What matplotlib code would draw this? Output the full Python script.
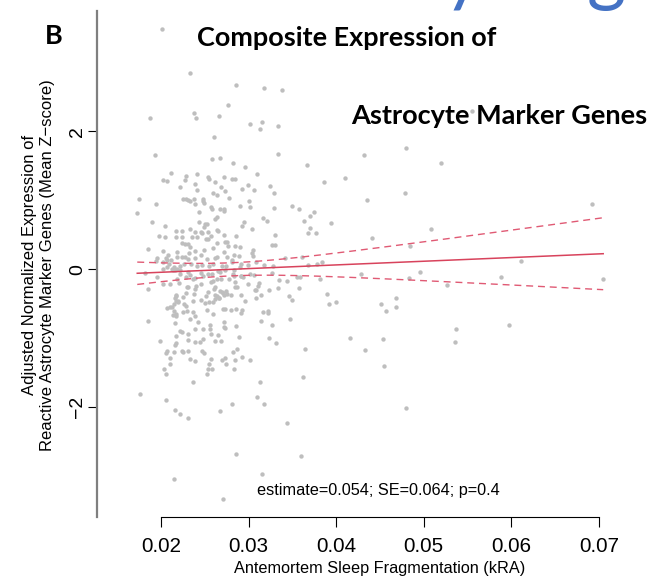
import numpy as np
import matplotlib
matplotlib.use("Agg")
import matplotlib.pyplot as plt

# Antemortem sleep fragmentation (kRA) for each subject
sleep_frag_kra = [
    0.02609, 0.01935, 0.03339, 0.02582, 0.02677, 0.02822, 0.02959, 0.02110,
    0.02285, 0.02411, 0.02533, 0.02552, 0.02719, 0.02810, 0.02845, 0.03092,
    0.02027, 0.02072, 0.02274, 0.02388, 0.02613, 0.02213, 0.02415, 0.02685,
    0.02734, 0.02928, 0.02989, 0.03058, 0.03244, 0.02597, 0.02643, 0.02776,
    0.03286, 0.01749, 0.02247, 0.02282, 0.02304, 0.02327, 0.02381, 0.02476,
    0.02483, 0.02491, 0.02392, 0.02902, 0.03008, 0.03016, 0.01943, 0.02567,
    0.02582, 0.02673, 0.02719, 0.02719, 0.03294, 0.03499, 0.03575, 0.01730,
    0.02434, 0.02613, 0.02635, 0.03168, 0.03210, 0.01897, 0.02529, 0.02506,
    0.02438, 0.02491, 0.02944, 0.02925, 0.03035, 0.02042, 0.02175, 0.02240,
    0.02331, 0.02384, 0.02460, 0.02537, 0.02635, 0.02647, 0.01981, 0.02046,
    0.02171, 0.02240, 0.02354, 0.02415, 0.02472, 0.02514, 0.02533, 0.02571,
    0.02723, 0.02852, 0.03305, 0.02244, 0.02278, 0.02308, 0.02331, 0.02643,
    0.02734, 0.02753, 0.02765, 0.02845, 0.02902, 0.03271, 0.03298, 0.01855,
    0.02027, 0.02076, 0.02057, 0.02179, 0.02392, 0.02495, 0.02597, 0.02723,
    0.03050, 0.03043, 0.01954, 0.01947, 0.02072, 0.02114, 0.02186, 0.02236,
    0.02278, 0.02312, 0.02323, 0.02384, 0.02460, 0.02521, 0.02613, 0.02635,
    0.02750, 0.02810, 0.02829, 0.02887, 0.03050, 0.03088, 0.03176, 0.03419,
    0.02027, 0.02095, 0.02152, 0.02179, 0.02217, 0.02263, 0.02342, 0.02415,
    0.02468, 0.02548, 0.02597, 0.02693, 0.02738, 0.02807, 0.02833, 0.02902,
    0.02917, 0.02997, 0.03282, 0.01821, 0.02019, 0.02072, 0.02122, 0.02137,
    0.02160, 0.02217, 0.02221, 0.02304, 0.02335, 0.02392, 0.02453, 0.02476,
    0.02540, 0.02578, 0.02647, 0.02670, 0.02734, 0.02826, 0.02837, 0.02909,
    0.03016, 0.03065, 0.03271, 0.03552, 0.03583, 0.01951, 0.02186, 0.02289,
    0.02361, 0.02453, 0.02567, 0.02594, 0.02639, 0.02689, 0.02776, 0.02845,
    0.02917, 0.02936, 0.02993, 0.03115, 0.03347, 0.03442, 0.01855, 0.02019,
    0.02103, 0.02209, 0.02293, 0.02312, 0.02384, 0.02400, 0.02533, 0.02601,
    0.02613, 0.02670, 0.02693, 0.02738, 0.02719, 0.02849, 0.02868, 0.03069,
    0.03088, 0.03103, 0.03237, 0.03339, 0.03575, 0.02167, 0.02175, 0.02255,
    0.02285, 0.02373, 0.02514, 0.02616, 0.02643, 0.02666, 0.02712, 0.02750,
    0.02799, 0.02913, 0.02963, 0.03145, 0.03465, 0.03499, 0.02171, 0.02190,
    0.02198, 0.02152, 0.02164, 0.02065, 0.02107, 0.02129, 0.02259, 0.02285,
    0.02369, 0.02460, 0.02502, 0.02552, 0.02597, 0.02620, 0.02662, 0.03088,
    0.02148, 0.02167, 0.02255, 0.02293, 0.02331, 0.02369, 0.02384, 0.02529,
    0.02597, 0.02708, 0.02734, 0.02799, 0.02852, 0.02909, 0.02928, 0.03164,
    0.03218, 0.03225, 0.03145, 0.02133, 0.02171, 0.01848, 0.02164, 0.02422,
    0.02559, 0.02719, 0.02727, 0.02856, 0.03263, 0.03476, 0.02217, 0.02236,
    0.02171, 0.02304, 0.02388, 0.02483, 0.02556, 0.02567, 0.02651, 0.02723,
    0.02887, 0.03237, 0.03317, 0.01989, 0.02171, 0.02160, 0.02304, 0.02384,
    0.02449, 0.02479, 0.02620, 0.02681, 0.02868, 0.02061, 0.02072, 0.02152,
    0.02244, 0.02255, 0.02304, 0.02335, 0.02388, 0.02468, 0.02491, 0.02571,
    0.02693, 0.02731, 0.02738, 0.02826, 0.02841, 0.02921, 0.03016, 0.02103,
    0.02034, 0.02057, 0.02107, 0.02544, 0.02537, 0.02586, 0.02521, 0.02833,
    0.01764, 0.02365, 0.03126, 0.02057, 0.03100, 0.02810, 0.03172, 0.02156,
    0.02213, 0.02308, 0.02670, 0.03434,
    0.04800, 0.04321, 0.05192, 0.03663, 0.04100, 0.03864, 0.04789, 0.04351,
    0.06916, 0.03746, 0.03701, 0.03629, 0.03937, 0.03697, 0.05086, 0.03674,
    0.03773, 0.04412, 0.04839, 0.03606, 0.03842, 0.06106, 0.03777, 0.03682,
    0.04960, 0.04279, 0.05885, 0.04835, 0.07049, 0.03819, 0.05265, 0.03895,
    0.04683, 0.03998, 0.03918, 0.04515, 0.04679, 0.04568, 0.05976, 0.05371,
    0.04154, 0.04538, 0.05356, 0.03644, 0.04325, 0.04542, 0.03621, 0.04793,
    0.02011, 0.02335, 0.01878, 0.02377, 0.02396, 0.02666,
    0.02856, 0.03180, 0.03381, 0.02769, 0.03016, 0.03149, 0.03134, 0.03336,
    0.02152, 0.02860, 0.03594, 0.03149, 0.02704, 0.05548,
]

# Adjusted composite expression of reactive astrocyte marker genes (mean z-score)
astro_z = [
    1.913, 1.657, 1.671, 1.604, 1.618, 1.536, 1.488, 1.396,
    1.357, 1.382, 1.338, 1.314, 1.343, 1.314, 1.309, 1.386,
    1.295, 1.280, 1.300, 1.232, 1.271, 1.193, 1.155, 1.188,
    1.130, 1.159, 1.222, 1.145, 1.213, 1.106, 1.077, 1.039,
    1.106, 1.014, 1.019, 1.019, 1.005, 0.995, 1.019, 1.024,
    0.990, 0.957, 0.942, 0.918, 0.995, 0.903, 0.952, 0.903,
    0.874, 0.879, 0.870, 0.845, 0.889, 0.923, 0.879, 0.812,
    0.831, 0.729, 0.754, 0.739, 0.696, 0.691, 0.657, 0.652,
    0.681, 0.609, 0.691, 0.633, 0.585, 0.628, 0.560, 0.556,
    0.585, 0.546, 0.536, 0.546, 0.575, 0.551, 0.483, 0.464,
    0.464, 0.473, 0.469, 0.464, 0.522, 0.444, 0.444, 0.483,
    0.493, 0.483, 0.493, 0.377, 0.367, 0.362, 0.319, 0.382,
    0.391, 0.396, 0.343, 0.343, 0.329, 0.353, 0.357, 0.300,
    0.266, 0.208, 0.169, 0.251, 0.271, 0.280, 0.304, 0.246,
    0.275, 0.242, 0.159, 0.126, 0.135, 0.135, 0.184, 0.184,
    0.174, 0.155, 0.232, 0.169, 0.203, 0.145, 0.164, 0.174,
    0.174, 0.135, 0.203, 0.188, 0.193, 0.111, 0.058, 0.159,
    0.101, 0.077, 0.029, 0.000, 0.053, 0.077, 0.072, 0.048,
    0.063, 0.043, 0.072, 0.048, 0.053, 0.101, -0.010, 0.039,
    0.077, 0.068, 0.053, -0.058, 0.005, 0.029, 0.000, -0.010,
    -0.010, -0.063, -0.010, -0.034, -0.077, -0.130, -0.058, -0.092,
    -0.063, -0.072, -0.019, -0.043, -0.014, -0.068, -0.097, -0.097,
    -0.072, -0.087, -0.048, -0.106, -0.111, -0.106, -0.135, -0.116,
    -0.140, -0.208, -0.184, -0.169, -0.135, -0.145, -0.135, -0.188,
    -0.101, -0.111, -0.208, -0.198, -0.159, -0.174, -0.290, -0.217,
    -0.213, -0.198, -0.256, -0.261, -0.290, -0.237, -0.324, -0.280,
    -0.251, -0.309, -0.333, -0.319, -0.367, -0.261, -0.256, -0.295,
    -0.304, -0.237, -0.300, -0.275, -0.266, -0.372, -0.382, -0.396,
    -0.338, -0.362, -0.382, -0.372, -0.391, -0.420, -0.348, -0.362,
    -0.367, -0.372, -0.454, -0.367, -0.386, -0.444, -0.454, -0.459,
    -0.478, -0.507, -0.420, -0.556, -0.551, -0.541, -0.507, -0.531,
    -0.454, -0.449, -0.493, -0.478, -0.473, -0.425, -0.420, -0.415,
    -0.604, -0.647, -0.618, -0.599, -0.715, -0.614, -0.681, -0.589,
    -0.643, -0.570, -0.570, -0.594, -0.580, -0.638, -0.585, -0.614,
    -0.599, -0.638, -0.749, -0.662, -0.671, -0.749, -0.778, -0.768,
    -0.807, -0.758, -0.845, -0.816, -0.802, -0.720, -0.894, -0.908,
    -0.961, -0.937, -0.865, -0.865, -0.870, -0.937, -0.952, -0.841,
    -0.981, -0.995, -1.068, -1.043, -1.063, -1.097, -1.019, -1.053,
    -1.053, -1.010, -1.043, -1.043, -1.159, -1.208, -1.179, -1.198,
    -1.188, -1.203, -1.188, -1.300, -1.329, -1.188, -1.208, -1.304,
    -1.309, -1.280, -1.372, -1.203, -1.319, -1.275, -1.314, -1.290,
    -1.449, -1.522, -1.377, -1.372, -1.444, -1.449, -1.522, -1.449,
    -1.812, -1.638, -1.628, -1.889, -1.855, -1.957, -1.952, -2.039,
    -2.097, -2.155, -2.053, -2.222,
    1.754, 1.662, 1.546, 1.517, 1.324, 1.271, 1.106, 1.010,
    0.952, 0.831, 0.768, 0.705, 0.671, 0.604, 0.589, 0.527,
    0.527, 0.459, 0.333, 0.184, 0.101, 0.116, 0.072, 0.058,
    -0.039, -0.063, -0.106, -0.121, -0.135, -0.145, -0.227, -0.362,
    -0.415, -0.473, -0.498, -0.498, -0.541, -0.599, -0.812, -0.860,
    -0.990, -1.005, -1.058, -1.155, -1.169, -1.396, -1.565, -2.014,
    3.478, 2.845, 2.198, 2.266, 2.193, 2.227,
    2.671, 2.623, 2.599, 2.382, 2.101, 2.135, 2.039, 2.077,
    -3.034, -2.671, -2.710, -2.966, -3.333, 2.294,
]

# Fitted regression line (in plotted units)
fit_intercept = -0.150
fit_slope = 5.33

x_ticks = [0.02, 0.03, 0.04, 0.05, 0.06, 0.07]
x_tick_labels = ["0.02", "0.03", "0.04", "0.05", "0.06", "0.07"]
y_ticks = [-2, 0, 2]
y_tick_labels = ["\u22122", "0", "2"]

panel_letter = "B"
title_lines = ["Composite Expression of", "Astrocyte Marker Genes"]
x_label = "Antemortem Sleep Fragmentation (kRA)"
y_label_lines = ["Adjusted Normalized Expression of",
                 "Reactive Astrocyte Marker Genes (Mean Z\u2212score)"]
stats_text = "estimate=0.054; SE=0.064; p=0.4"

W, H = 651, 576
fig = plt.figure(figsize=(W / 100, H / 100), dpi=100)
fig.patch.set_facecolor("white")


def fx(px):
    return px / W


def fy(py):
    return 1 - py / H


ax = fig.add_axes([fx(97), fy(517), (640 - 97) / W, (517 - 5) / H])
ax.set_xlim(0.012705, 0.07469)
ax.set_ylim(-3.590, 3.830)
ax.patch.set_alpha(0)

x = np.array(sleep_frag_kra)
y = np.array(astro_z)

ax.scatter(x, y, s=10, c="#BEBEBE", linewidths=0, zorder=2)

# regression line with 95% confidence band for the mean
xs = np.linspace(x.min(), x.max(), 300)
yhat = fit_intercept + fit_slope * xs
resid = y - (fit_intercept + fit_slope * x)
n = len(x)
s = np.sqrt(np.sum(resid ** 2) / (n - 2))
xm = x.mean()
sxx = np.sum((x - xm) ** 2)
half = 1.966 * s * np.sqrt(1.0 / n + (xs - xm) ** 2 / sxx)

ax.plot(xs, yhat, color="#D8435C", lw=1.1, zorder=3)
ax.plot(xs, yhat + half, color="#E05A74", lw=1.0, ls=(0, (5, 3.5)), zorder=3)
ax.plot(xs, yhat - half, color="#E05A74", lw=1.0, ls=(0, (5, 3.5)), zorder=3)

for side in ("top", "right"):
    ax.spines[side].set_visible(False)
ax.spines["left"].set_color("#7F7F7F")
ax.spines["left"].set_linewidth(1.6)
ax.spines["left"].set_bounds(-3.590, 3.743)
ax.spines["bottom"].set_color("black")
ax.spines["bottom"].set_linewidth(0.8)
ax.spines["bottom"].set_bounds(0.02, 0.07)

ax.set_xticks(x_ticks)
ax.set_xticklabels(x_tick_labels, fontsize=14.8, family="Liberation Sans")
ax.tick_params(axis="x", length=7.3, width=0.8, pad=7, color="black")

ax.set_yticks(y_ticks)
ax.set_yticklabels(y_tick_labels, fontsize=14, family="Liberation Sans",
                   rotation=90, va="center")
ax.tick_params(axis="y", length=6.8, width=0.8, pad=1, color="black")

fig.text(fx(380), fy(568), x_label, ha="center", va="center",
         fontsize=11.7, family="Liberation Sans")
fig.text(fx(38.5), fy(265), "\n".join(y_label_lines), rotation=90,
         ha="center", va="center", multialignment="center",
         fontsize=12, family="Liberation Sans", linespacing=1.2)
fig.text(fx(378.6), fy(491), stats_text, ha="center", va="center",
         fontsize=11.7, family="Liberation Sans")

title_style = dict(family="Lato", fontweight="bold", color="black",
                   ha="center", va="baseline", fontsize=19)
t1 = fig.text(fx(347), fy(45.5), title_lines[0], **title_style)
t2 = fig.text(fx(499), fy(124), title_lines[1], **title_style)
tb = fig.text(fx(54), fy(44.5), panel_letter, **title_style)

# blue heading above the panel, running off the top edge
heading_style = dict(family="Lato", color="#4472C4", ha="center",
                     va="baseline", fontsize=54)
fig.text(fx(463), fy(-4), "y", **heading_style)
fig.text(fx(606), fy(-4), "g", **heading_style)

fig.canvas.draw()
renderer = fig.canvas.get_renderer()
for t, target in ((t1, 298), (t2, 296)):
    w = t.get_window_extent(renderer).width
    t.set_fontsize(t.get_fontsize() * target / w)
tb.set_fontsize(t1.get_fontsize())

fig.savefig("out.png", dpi=100)
